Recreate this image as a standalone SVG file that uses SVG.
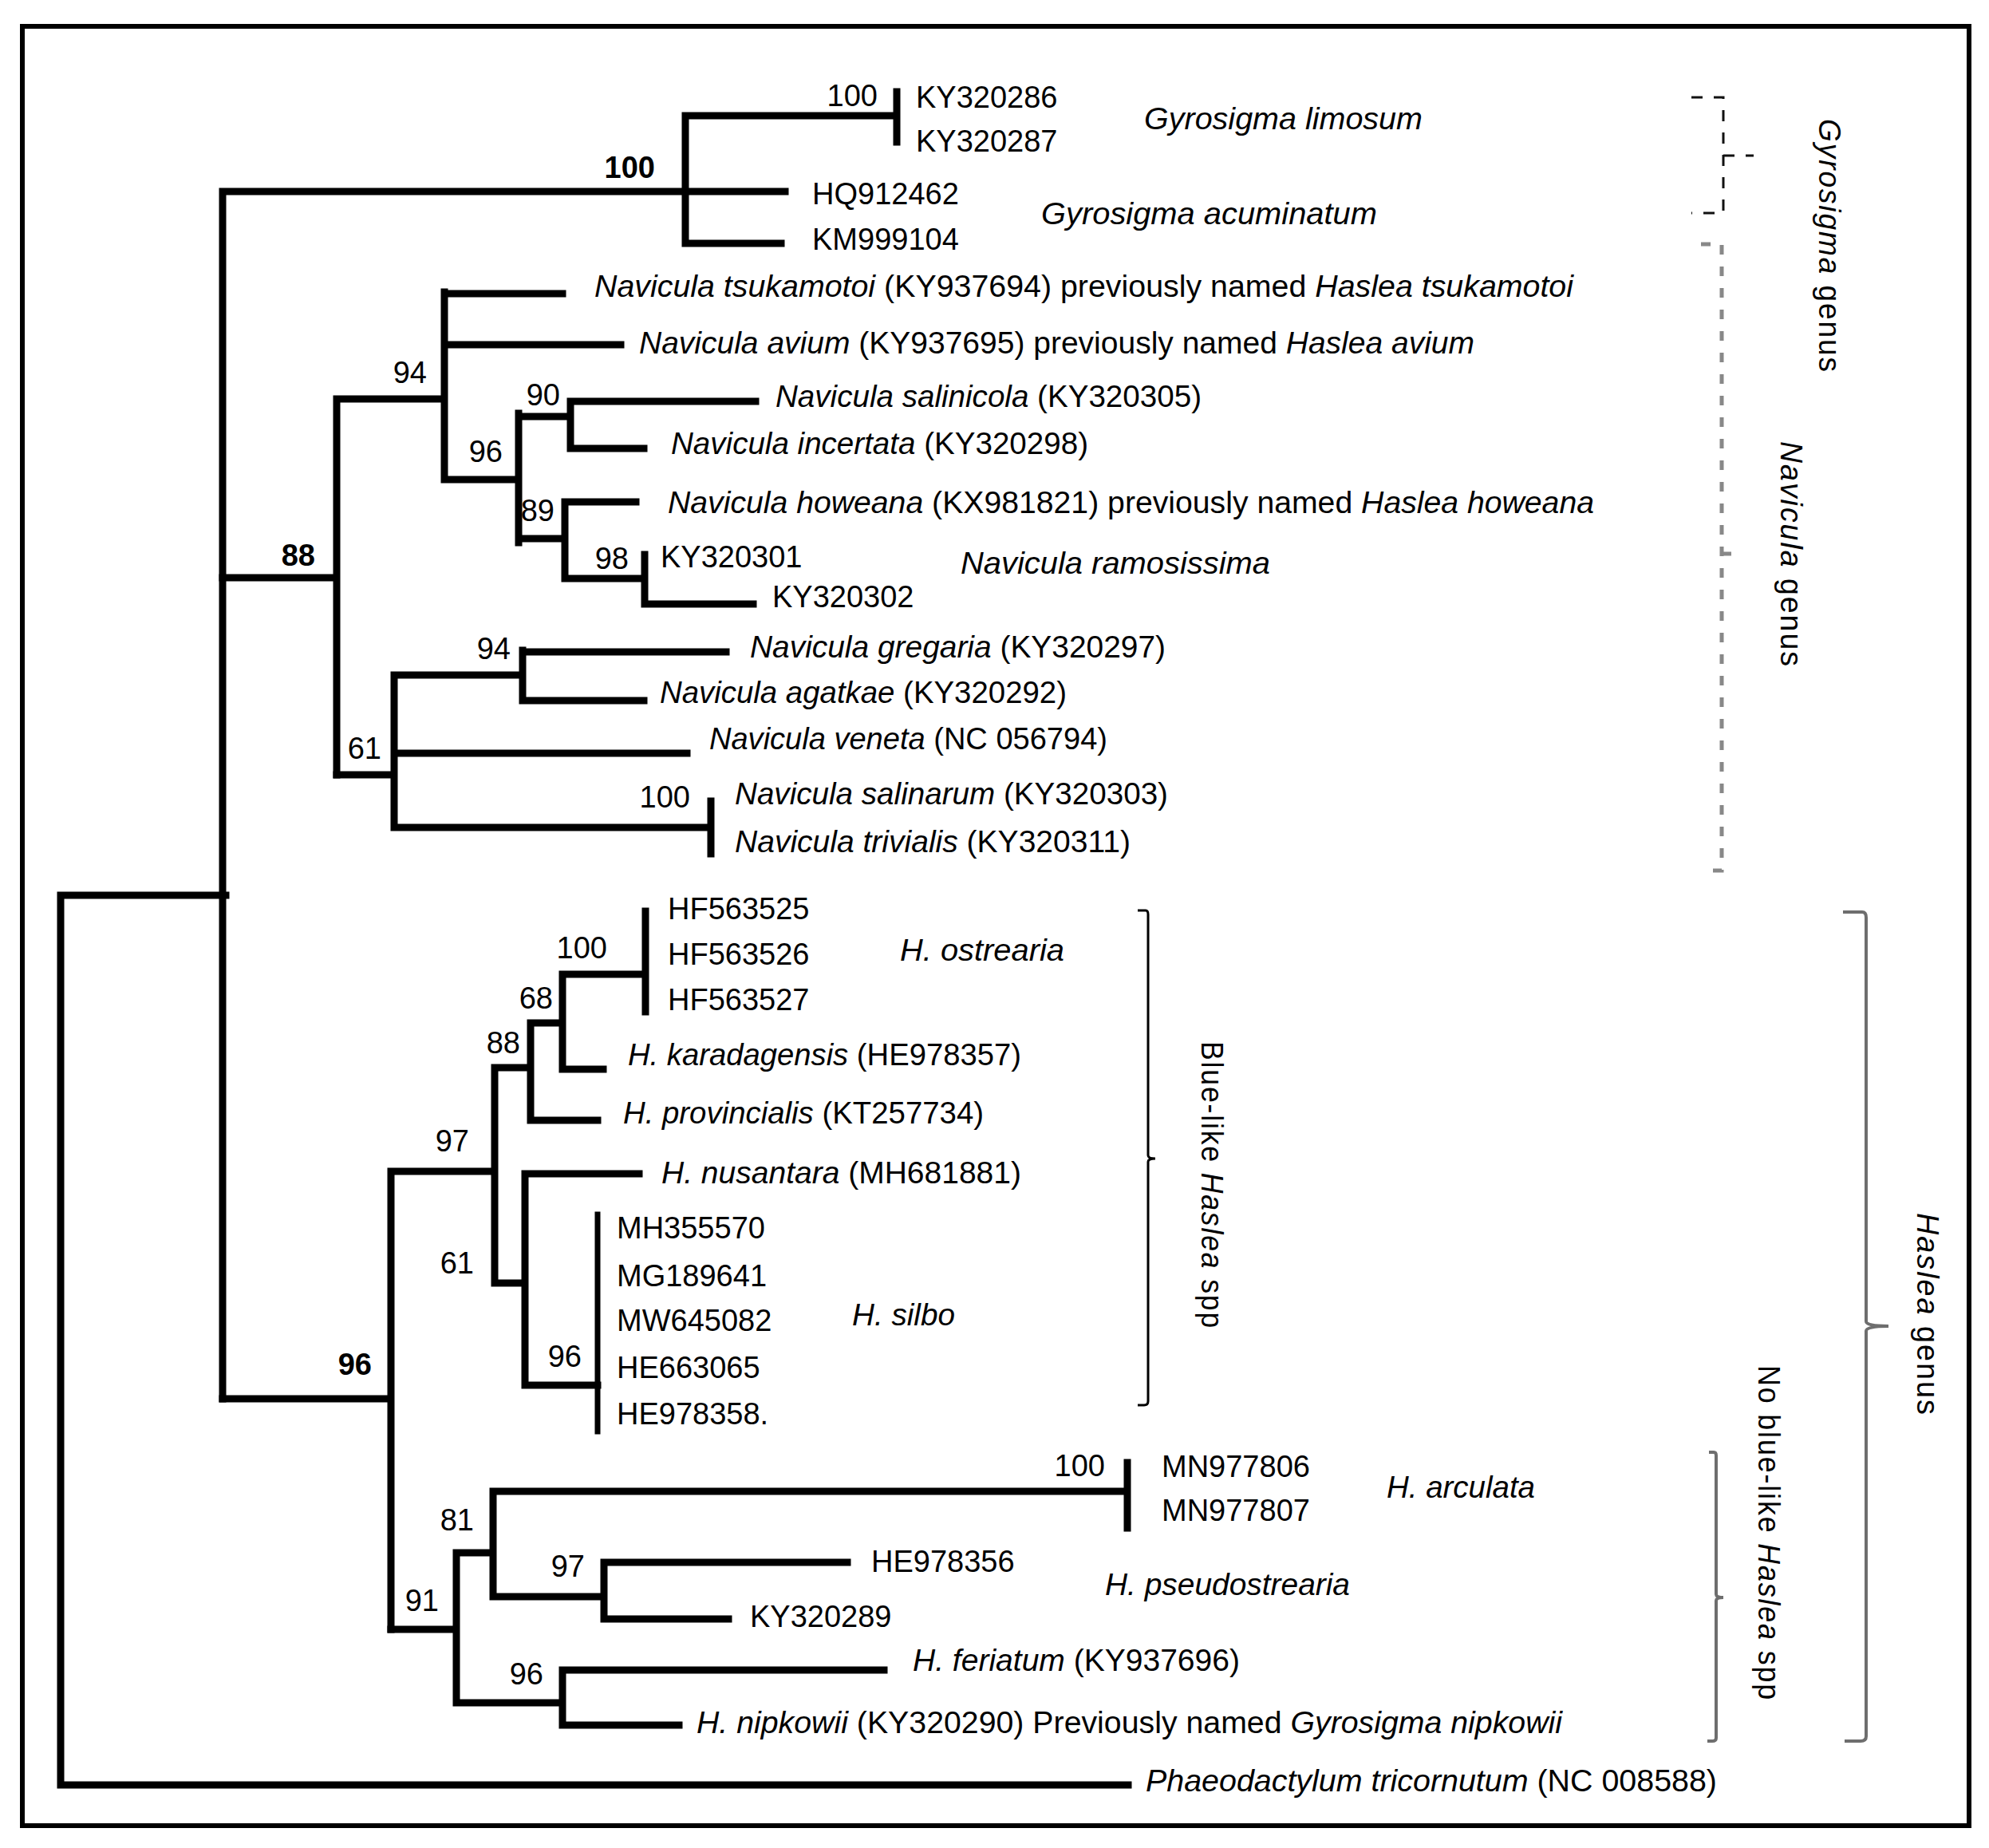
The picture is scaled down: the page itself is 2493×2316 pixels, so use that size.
<svg xmlns="http://www.w3.org/2000/svg" width="2493" height="2316" viewBox="0 0 2493 2316">
<style>
text{font-family:"Liberation Sans",Arial,sans-serif;font-size:38px;fill:#000;dominant-baseline:central}
.i{font-style:italic}
.b{font-weight:bold}
.s{text-anchor:end}
.br{fill:none;stroke:#000;stroke-width:9;stroke-linecap:square}
.thin{stroke-width:7}
.dg{fill:none;stroke:#111;stroke-width:3;stroke-dasharray:14 14}
.dn{fill:none;stroke:#888;stroke-width:5;stroke-dasharray:12 15}
.bk{fill:none;stroke:#000;stroke-width:3}
.gr{fill:none;stroke:#6e6e6e;stroke-width:4}
.rot{letter-spacing:2px}
</style>
<rect x="0" y="0" width="2493" height="2316" fill="#fff"/>
<rect x="28" y="33" width="2440" height="2255" fill="none" stroke="#000" stroke-width="6"/>
<g id="connectors">
<path class="br" d="M76,1122 H283 M76,1122 V2237 H1414 M279,240 V1753 M279,240 H984 M859,145 V305 M859,145 H1124 M1124,115 V178 M859,305 H979"/>
<path class="br" d="M279,724 H422 M422,500 V971 M422,500 H557 M557,366 V601 M557,368 H705 M557,432 H778 M557,601 H650 M650,518 V680 M650,522 H715 M715,503 V562 M715,503 H947 M715,562 H807 M650,675 H708 M708,629 V725 M708,629 H797 M708,725 H808 M808,695 V757 M808,757 H944"/>
<path class="br" d="M422,971 H494 M494,846 V1037 M494,846 H655 M655,815 V878 M655,817 H910 M655,878 H807 M494,944 H861 M494,1037 H891 M891,1004 V1070"/>
<path class="br" d="M279,1753 H490 M490,1468 V2042 M490,1468 H620 M620,1338 V1608 M620,1338 H665 M665,1282 V1404 M665,1282 H705 M705,1221 V1340 M705,1221 H809 M809,1142 V1268 M705,1340 H756 M665,1404 H749 M620,1608 H658 M658,1471 V1736 M658,1471 H801 M658,1736 H749"/>
<path class="br thin" d="M749,1522 V1794"/>
<path class="br" d="M490,2042 H572 M572,1946 V2134 M572,1946 H618 M618,1869 V2001 M618,1869 H1413 M1413,1833 V1915 M618,2001 H757 M757,1958 V2029 M757,1958 H1062 M757,2029 H913 M572,2134 H705 M705,2093 V2162 M705,2093 H1108 M705,2162 H851"/>
</g>
<g id="brackets">
<path class="dg" d="M2120,122 H2160 V267 H2120 M2160,195 H2198"/>
<path class="dn" d="M2132,306 H2158 V1091 H2138 M2158,694 H2180"/>
<path class="bk" d="M1426,1141 H1436 Q1439,1141 1439,1146 V1448 Q1439,1452 1448,1452 Q1439,1452 1439,1456 V1756 Q1439,1761 1434,1761 H1426"/>
<path class="gr" d="M2142,1820 H2148 Q2151,1820 2151,1824 V1998 Q2151,2002 2160,2002 Q2151,2002 2151,2006 V2178 Q2151,2182 2146,2182 H2140"/>
<path class="gr" d="M2310,1143 H2334 Q2339,1143 2339,1150 V1656 Q2339,1662 2367,1662 Q2339,1662 2339,1668 V2176 Q2339,2182 2332,2182 H2312"/>
</g>
<g id="support">
<text class="s" x="1100" y="120">100</text>
<text class="s b" x="821" y="210">100</text>
<text class="s" x="535" y="467">94</text>
<text class="s" x="702" y="495">90</text>
<text class="s" x="630" y="566">96</text>
<text class="s" x="695" y="640">89</text>
<text class="s" x="788" y="700">98</text>
<text class="s b" x="395" y="696">88</text>
<text class="s" x="640" y="813">94</text>
<text class="s" x="478" y="938">61</text>
<text class="s" x="865" y="999">100</text>
<text class="s" x="761" y="1188">100</text>
<text class="s" x="693" y="1251">68</text>
<text class="s" x="652" y="1307">88</text>
<text class="s" x="588" y="1430">97</text>
<text class="s" x="594" y="1583">61</text>
<text class="s" x="729" y="1700">96</text>
<text class="s b" x="466" y="1710">96</text>
<text class="s" x="1385" y="1837">100</text>
<text class="s" x="594" y="1905">81</text>
<text class="s" x="733" y="1963">97</text>
<text class="s" x="550" y="2006">91</text>
<text class="s" x="681" y="2098">96</text>
</g>
<g id="gyrosigma">
<text x="1148" y="122">KY320286</text>
<text x="1148" y="177">KY320287</text>
<text class="i" x="1434" y="149" textLength="349" lengthAdjust="spacingAndGlyphs">Gyrosigma limosum</text>
<text x="1018" y="243">HQ912462</text>
<text x="1018" y="300">KM999104</text>
<text class="i" x="1305" y="268" textLength="421" lengthAdjust="spacingAndGlyphs">Gyrosigma acuminatum</text>
</g>
<g id="navicula">
<text x="745" y="359" textLength="1227" lengthAdjust="spacingAndGlyphs"><tspan class="i">Navicula tsukamotoi</tspan> (KY937694) previously named <tspan class="i">Haslea tsukamotoi</tspan></text>
<text x="801" y="430" textLength="1047" lengthAdjust="spacingAndGlyphs"><tspan class="i">Navicula avium</tspan>  (KY937695) previously named <tspan class="i">Haslea avium</tspan></text>
<text x="972" y="497" textLength="534" lengthAdjust="spacingAndGlyphs"><tspan class="i">Navicula salinicola</tspan> (KY320305)</text>
<text x="841" y="556" textLength="523" lengthAdjust="spacingAndGlyphs"><tspan class="i">Navicula incertata</tspan> (KY320298)</text>
<text x="837" y="630" textLength="1161" lengthAdjust="spacingAndGlyphs"><tspan class="i">Navicula howeana</tspan> (KX981821) previously named <tspan class="i">Haslea howeana</tspan></text>
<text x="828" y="698">KY320301</text>
<text x="968" y="748">KY320302</text>
<text class="i" x="1204" y="706" textLength="388" lengthAdjust="spacingAndGlyphs">Navicula ramosissima</text>
<text x="940" y="811" textLength="521" lengthAdjust="spacingAndGlyphs"><tspan class="i">Navicula gregaria</tspan>  (KY320297)</text>
<text x="827" y="868" textLength="510" lengthAdjust="spacingAndGlyphs"><tspan class="i">Navicula agatkae</tspan>  (KY320292)</text>
<text x="889" y="926" textLength="499" lengthAdjust="spacingAndGlyphs"><tspan class="i">Navicula veneta</tspan> (NC 056794)</text>
<text x="921" y="995" textLength="543" lengthAdjust="spacingAndGlyphs"><tspan class="i">Navicula salinarum</tspan>  (KY320303)</text>
<text x="921" y="1055" textLength="496" lengthAdjust="spacingAndGlyphs"><tspan class="i">Navicula trivialis</tspan> (KY320311)</text>
</g>
<g id="haslea-blue">
<text x="837" y="1139">HF563525</text>
<text x="837" y="1196">HF563526</text>
<text x="837" y="1253">HF563527</text>
<text class="i" x="1128" y="1191" textLength="206" lengthAdjust="spacingAndGlyphs">H. ostrearia</text>
<text x="787" y="1322" textLength="493" lengthAdjust="spacingAndGlyphs"><tspan class="i">H. karadagensis</tspan> (HE978357)</text>
<text x="781" y="1395" textLength="452" lengthAdjust="spacingAndGlyphs"><tspan class="i">H. provincialis</tspan> (KT257734)</text>
<text x="829" y="1470" textLength="451" lengthAdjust="spacingAndGlyphs"><tspan class="i">H. nusantara</tspan> (MH681881)</text>
<text x="773" y="1539">MH355570</text>
<text x="773" y="1599">MG189641</text>
<text x="773" y="1655">MW645082</text>
<text x="773" y="1714">HE663065</text>
<text x="773" y="1772">HE978358.</text>
<text class="i" x="1068" y="1648" textLength="129" lengthAdjust="spacingAndGlyphs">H. silbo</text>
</g>
<g id="haslea-noblue">
<text x="1456" y="1838">MN977806</text>
<text x="1456" y="1893">MN977807</text>
<text class="i" x="1738" y="1864" textLength="186" lengthAdjust="spacingAndGlyphs">H. arculata</text>
<text x="1092" y="1957">HE978356</text>
<text class="i" x="1385" y="1986" textLength="307" lengthAdjust="spacingAndGlyphs">H. pseudostrearia</text>
<text x="940" y="2026">KY320289</text>
<text x="1144" y="2081" textLength="410" lengthAdjust="spacingAndGlyphs"><tspan class="i">H. feriatum</tspan> (KY937696)</text>
<text x="873" y="2159" textLength="1085" lengthAdjust="spacingAndGlyphs"><tspan class="i">H. nipkowii</tspan> (KY320290) Previously named <tspan class="i">Gyrosigma nipkowii</tspan></text>
</g>
<g id="outgroup">
<text x="1436" y="2232" textLength="716" lengthAdjust="spacingAndGlyphs"><tspan class="i">Phaeodactylum  tricornutum</tspan> (NC 008588)</text>
</g>
<g id="clade-labels">
<text class="rot" transform="translate(2293,149) rotate(90)" textLength="319" lengthAdjust="spacingAndGlyphs"><tspan class="i">Gyrosigma</tspan>   genus</text>
<text class="rot" transform="translate(2245,553) rotate(90)" textLength="284" lengthAdjust="spacingAndGlyphs"><tspan class="i">Navicula</tspan>   genus</text>
<text class="rot" transform="translate(1519,1305) rotate(90)" textLength="361" lengthAdjust="spacingAndGlyphs">Blue-like <tspan class="i">Haslea</tspan> spp</text>
<text class="rot" transform="translate(2217,1711) rotate(90)" textLength="421" lengthAdjust="spacingAndGlyphs">No blue-like <tspan class="i">Haslea</tspan> spp</text>
<text class="rot" transform="translate(2416,1520) rotate(90)" textLength="255" lengthAdjust="spacingAndGlyphs"><tspan class="i">Haslea</tspan>   genus</text>
</g>
</svg>
